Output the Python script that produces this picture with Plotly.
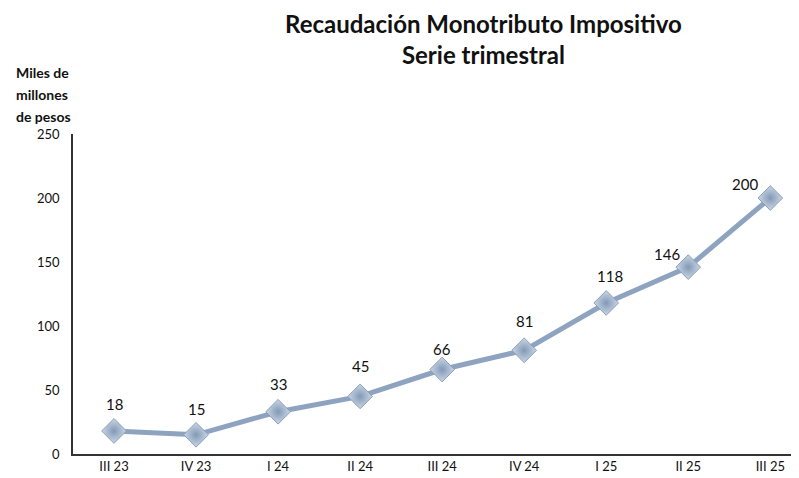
import plotly.graph_objects as go

categories = ["III 23", "IV 23", "I 24", "II 24", "III 24", "IV 24", "I 25", "II 25", "III 25"]
values = [18, 15, 33, 45, 66, 81, 118, 146, 200]
y_ticks = [0, 50, 100, 150, 200, 250]
label_dy = [27, 26, 28, 30, 21, 29, 27, 13, 14]
label_dx = [0, 0, 0, 0, 0, 0, 4, -21, -25]

FONT = "Lato"
xs = list(range(len(categories)))

fig = go.Figure()
fig.add_trace(go.Scatter(
    x=xs, y=values, mode="lines",
    line=dict(color="#8EA3BF", width=5),
    hoverinfo="skip", showlegend=False,
))
fig.add_trace(go.Scatter(
    x=xs, y=values, mode="markers",
    marker=dict(symbol="diamond", size=19, color="#CBD7E6",
                gradient=dict(type="radial", color="#8299B5"),
                line=dict(color="#8A9FBA", width=1)),
    cliponaxis=False, hoverinfo="skip", showlegend=False,
))

annotations = [
    dict(text="<b>Recaudación Monotributo Impositivo</b><br><b>Serie trimestral</b>",
         xref="paper", yref="paper", x=0.566, y=1.0, yshift=126,
         xanchor="center", yanchor="top", showarrow=False, borderpad=0,
         font=dict(family=FONT, size=24, color="#111111")),
]
for i, line in enumerate(["Miles de", "millones", "de pesos"]):
    annotations.append(dict(
        text="<b>" + line + "</b>", xref="paper", yref="paper",
        x=0.0, xshift=-59, y=1.0, yshift=62 - 22 * i,
        xanchor="left", yanchor="middle", showarrow=False,
        font=dict(family=FONT, size=14, color="#111111")))
for x, v, dx, dy in zip(xs, values, label_dx, label_dy):
    annotations.append(dict(
        text=str(v), x=x, y=v, xref="x", yref="y", xshift=dx, yshift=dy,
        showarrow=False, xanchor="center", yanchor="middle",
        font=dict(family=FONT, size=15, color="#111111")))

fig.update_layout(
    width=791, height=470,
    margin=dict(l=65, r=0, t=126, b=24),
    plot_bgcolor="white", paper_bgcolor="white",
    font=dict(family=FONT, color="#111111"),
    xaxis=dict(range=[-0.5, 8.35], tickmode="array",
               tickvals=xs, ticktext=categories,
               showgrid=False, zeroline=False, showline=True,
               linecolor="#333333", linewidth=1.5, ticks="",
               tickfont=dict(family=FONT, size=13, color="#111111")),
    yaxis=dict(range=[0, 250], tickmode="array", tickvals=y_ticks,
               showgrid=False, zeroline=False, showline=True,
               linecolor="#333333", linewidth=1.5, ticks="",
               ticklabelstandoff=9,
               tickfont=dict(family=FONT, size=13, color="#111111")),
    annotations=annotations,
)

fig.write_html("out.html")
